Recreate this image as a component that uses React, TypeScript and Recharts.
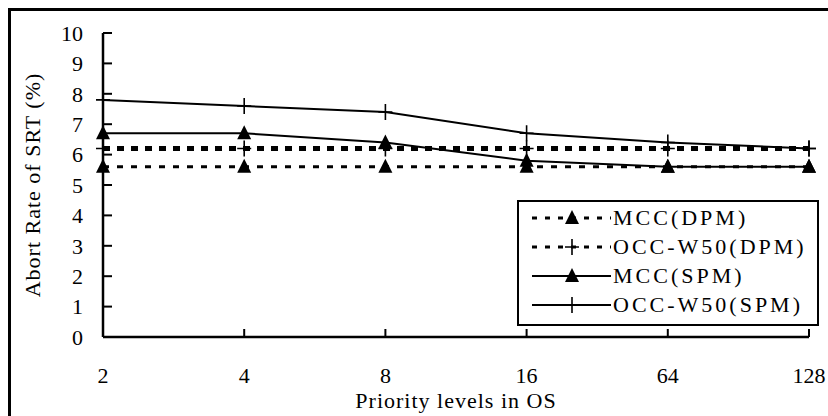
import React from 'react';
import { LineChart, Line, XAxis, YAxis, Label } from 'recharts';

const levels = ['2', '4', '8', '16', '64', '128'];
const mccDpm = [5.6, 5.6, 5.6, 5.6, 5.6, 5.6];
const occDpm = [6.2, 6.2, 6.2, 6.2, 6.2, 6.2];
const mccSpm = [6.7, 6.7, 6.4, 5.8, 5.6, 5.6];
const occSpm = [7.8, 7.6, 7.4, 6.7, 6.4, 6.2];
const yTicks = [0, 1, 2, 3, 4, 5, 6, 7, 8, 9, 10];

const FONT = '"Liberation Serif", "Times New Roman", serif';

const data = levels.map((level, i) => ({
  level,
  mccDpm: mccDpm[i],
  occDpm: occDpm[i],
  mccSpm: mccSpm[i],
  occSpm: occSpm[i],
}));

type Shape = 'triangle' | 'plus';

const series: { key: string; name: string; shape: Shape; dash?: string; width: number }[] = [
  { key: 'mccDpm', name: 'MCC(DPM)', shape: 'triangle', dash: '6 8', width: 3 },
  { key: 'occDpm', name: 'OCC-W50(DPM)', shape: 'plus', dash: '7 7', width: 5 },
  { key: 'mccSpm', name: 'MCC(SPM)', shape: 'triangle', width: 2 },
  { key: 'occSpm', name: 'OCC-W50(SPM)', shape: 'plus', width: 2 },
];

function Marker({ cx, cy, shape }: { cx: number; cy: number; shape: Shape }) {
  if (shape === 'triangle') {
    return <path d={`M${cx},${cy - 8} L${cx + 7},${cy + 6} L${cx - 7},${cy + 6} Z`} fill="#000" />;
  }
  return (
    <path
      d={`M${cx - 7},${cy} L${cx + 7},${cy} M${cx},${cy - 8} L${cx},${cy + 8}`}
      stroke="#000"
      strokeWidth={1.6}
      fill="none"
    />
  );
}

// legend drawn as an overlay so it doesn't eat plot space
function LegendBox() {
  return (
    <svg width={302} height={126} style={{ display: 'block' }}>
      <rect x={1} y={1} width={300} height={124} fill="#fff" stroke="#000" strokeWidth={2} />
      {series.map((s, i) => {
        const y = 18 + i * 29;
        return (
          <g key={s.key}>
            <line
              x1={15}
              x2={94}
              y1={y}
              y2={y}
              stroke="#000"
              strokeWidth={s.dash ? 3 : 2}
              strokeDasharray={s.dash ? '5 8' : undefined}
            />
            <Marker cx={55} cy={y} shape={s.shape} />
            <text x={96} y={y + 7} fontFamily={FONT} fontSize={22} letterSpacing={3} fill="#000">
              {s.name}
            </text>
          </g>
        );
      })}
    </svg>
  );
}

export default function App() {
  return (
    <div
      style={{
        position: 'fixed',
        left: 0,
        top: 0,
        width: 828,
        height: 416,
        overflow: 'hidden',
        background: '#fff',
      }}
    >
      <div
        style={{
          position: 'absolute',
          left: 8,
          top: 8,
          width: 900,
          height: 500,
          border: '3px solid #000',
        }}
      />
      <div style={{ position: 'absolute', left: 0, top: 0 }}>
        <LineChart
          width={828}
          height={416}
          data={data}
          margin={{ top: 33, right: 19, bottom: 0, left: 0 }}
        >
          <XAxis
            dataKey="level"
            height={79}
            axisLine={{ stroke: '#000', strokeWidth: 2.5 }}
            tickLine={{ stroke: '#000', strokeWidth: 2 }}
            tickSize={-8}
            tickMargin={38}
            tick={{ fill: '#000', fontSize: 22, fontFamily: FONT }}
            interval={0}
          >
            <Label
              value="Priority levels in OS"
              position="insideBottom"
              offset={8}
              style={{ fill: '#000', fontSize: 22, fontFamily: FONT, letterSpacing: 1 }}
            />
          </XAxis>
          <YAxis
            width={103}
            domain={[0, 10]}
            ticks={yTicks}
            interval={0}
            axisLine={{ stroke: '#000', strokeWidth: 2.5 }}
            tickLine={{ stroke: '#000', strokeWidth: 2 }}
            tickSize={-9}
            tickMargin={29}
            tick={{ fill: '#000', fontSize: 22, fontFamily: FONT }}
          >
            <Label
              content={({ viewBox }: any) => {
                const cx = 32;
                const cy = viewBox.y + viewBox.height / 2;
                return (
                  <text
                    x={cx}
                    y={cy}
                    transform={`rotate(-90 ${cx} ${cy})`}
                    textAnchor="middle"
                    dominantBaseline="central"
                    fontFamily={FONT}
                    fontSize={22}
                    letterSpacing={1}
                    fill="#000"
                  >
                    Abort Rate of SRT (%)
                  </text>
                );
              }}
            />
          </YAxis>
          {series.map((s) => (
            <Line
              key={s.key}
              dataKey={s.key}
              name={s.name}
              type="linear"
              stroke="#000"
              strokeWidth={s.width}
              strokeDasharray={s.dash}
              isAnimationActive={false}
              dot={(p: any) => (
                <Marker key={`${s.key}-${p.index}`} cx={p.cx} cy={p.cy} shape={s.shape} />
              )}
              activeDot={false}
            />
          ))}
        </LineChart>
      </div>
      <div style={{ position: 'absolute', left: 517, top: 200 }}>
        <LegendBox />
      </div>
    </div>
  );
}
